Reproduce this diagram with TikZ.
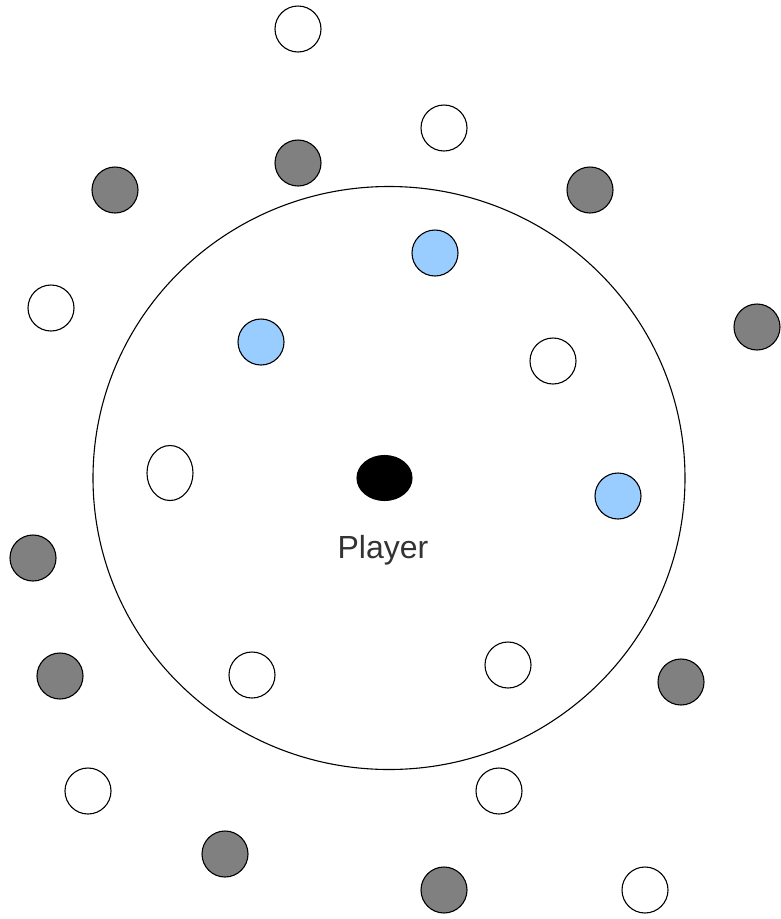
\documentclass[tikz,border=0pt]{standalone}
\usepackage{fontspec}
\setmainfont{Liberation Sans}
\usepackage{tikz}
\usetikzlibrary{shapes.geometric,positioning}
\definecolor{takengray}{HTML}{808080}
\definecolor{nearblue}{HTML}{99CCFF}
\definecolor{labgray}{HTML}{333333}

\begin{document}
\begin{tikzpicture}[x=1pt, y=-1pt,
  free/.style={draw, circle, line width=1.1pt, fill=white, minimum size=46pt, inner sep=0pt},
  taken/.style={free, fill=takengray},
  near/.style={free, fill=nearblue},
  lab/.style={font=\fontsize{32}{38}\selectfont, text=labgray}]
\useasboundingbox (0,0) rectangle (780,919);
\node[draw, ellipse, line width=1.1pt, minimum width=592pt, minimum height=583pt, inner sep=0pt] (range) at (389,478) {};
% player in the middle
\node[draw, ellipse, fill=black, line width=1.1pt, minimum width=55pt, minimum height=45pt, inner sep=0pt] (player) at (384.5,478) {};
\node[lab] (plab) at (383,550) {Player};
% empty spots
\node[free] (f1) at (298,29) {};
\node[free] (f2) at (444,128) {};
\node[free] (f3) at (51,308) {};
\node[free] (f4) at (553,361) {};
\node[free, ellipse, minimum width=46pt, minimum height=55pt] (f5) at (170,473) {};
\node[free] (f6) at (252,675) {};
\node[free] (f7) at (508,665) {};
\node[free] (f8) at (88,791) {};
\node[free] (f9) at (499,791) {};
\node[free] (f10) at (645,890) {};
% taken spots
\node[taken] (t1) at (298,163) {};
\node[taken] (t2) at (115,190) {};
\node[taken] (t3) at (590,190) {};
\node[taken] (t4) at (757,327) {};
\node[taken] (t5) at (33,558) {};
\node[taken] (t6) at (60,676) {};
\node[taken] (t7) at (681,682) {};
\node[taken] (t8) at (225,854) {};
\node[taken] (t9) at (444,890) {};
% in range
\node[near] (n1) at (435,253) {};
\node[near] (n2) at (261,342) {};
\node[near] (n3) at (618,496) {};
\end{tikzpicture}
\end{document}
